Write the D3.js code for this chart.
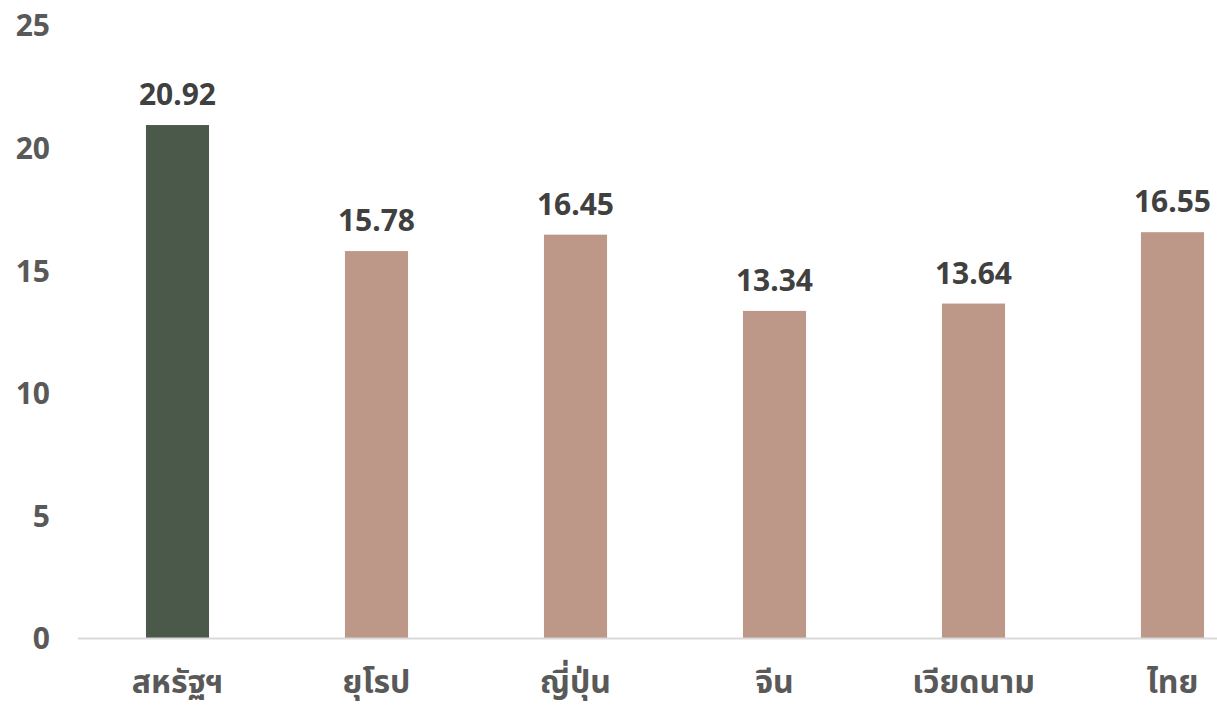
<!DOCTYPE html>
<html><head><meta charset="utf-8">
<script src="https://cdn.jsdelivr.net/npm/d3@7"></script>
<style>body{margin:0;background:#fff}svg{display:block}text{font-family:"Noto Sans","Noto Sans Thai",sans-serif;font-weight:bold}</style>
</head><body><svg id="c" width="1217" height="706"></svg>
<script>
const categories = ["สหรัฐฯ","ยุโรป","ญี่ปุ่น","จีน","เวียดนาม","ไทย"];
const values = [20.92,15.78,16.45,13.34,13.64,16.55];
const barColors = ["#4b594b","#bd9888","#bd9888","#bd9888","#bd9888","#bd9888"];
const yTicks = [0,5,10,15,20,25];

const svg = d3.select("#c");
const x = d3.scaleBand().domain(categories).range([78,1272]).paddingInner(0.683).paddingOuter(0.3415);
const y = d3.scaleLinear().domain([0,25]).range([638,25]);

svg.selectAll("rect.bar").data(values).join("rect")
  .attr("x",(d,i)=>x(categories[i])).attr("width",x.bandwidth())
  .attr("y",d=>y(d)).attr("height",d=>y(0)-y(d)).attr("fill",(d,i)=>barColors[i]);

svg.append("line").attr("x1",78).attr("x2",1272).attr("y1",y(0)+0.5).attr("y2",y(0)+0.5)
  .attr("stroke","#d9d9d9").attr("stroke-width",2);

const yAxis = d3.axisLeft(y).tickValues(yTicks).tickSize(0).tickPadding(0);
const ga = svg.append("g").attr("transform","translate(50,0)").call(yAxis);
ga.select(".domain").remove();
ga.selectAll("text").attr("font-size",30).attr("fill","#595959").attr("dy","0.36em")
  .style("font-family",'"Noto Sans",sans-serif').style("font-weight","bold");

svg.selectAll("text.val").data(values).join("text").attr("class","val")
  .attr("x",(d,i)=>x(categories[i])+x.bandwidth()/2).attr("y",d=>y(d)-20)
  .attr("text-anchor","middle").attr("font-size",30).attr("fill","#404040")
  .text(d=>d.toFixed(2));

const xAxis = d3.axisBottom(x).tickSize(0).tickPadding(0);
const gx = svg.append("g").attr("transform","translate(0,693)").call(xAxis);
gx.select(".domain").remove();
gx.selectAll("text").attr("font-size",32).attr("fill","#595959").attr("dy",0)
  .style("font-family",'"Noto Sans","Noto Sans Thai",sans-serif').style("font-weight","bold");
</script></body></html>
